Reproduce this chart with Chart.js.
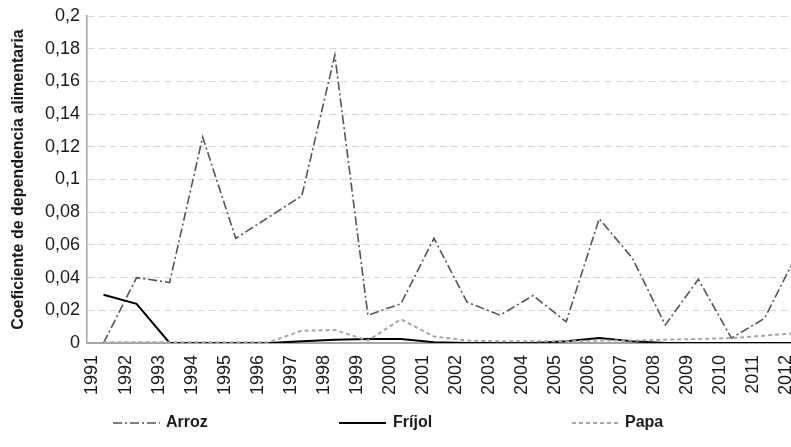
<!DOCTYPE html>
<html lang="es">
<head>
<meta charset="utf-8">
<title>Coeficiente de dependencia alimentaria</title>
<script src="https://cdn.jsdelivr.net/npm/chart.js@4.4.1/dist/chart.umd.min.js"></script>
<style>
  html, body { margin: 0; padding: 0; background: #fff; overflow: hidden; }
  #wrap { width: 791px; height: 447px; overflow: hidden; }
  canvas { display: block; }
</style>
</head>
<body>
<div id="wrap">
  <canvas id="dependenciaChart" width="816" height="447"></canvas>
</div>
<script>
// =============================================================================
// DATA
// =============================================================================
const years = ['1991', '1992', '1993', '1994', '1995', '1996', '1997', '1998', '1999', '2000', '2001',
               '2002', '2003', '2004', '2005', '2006', '2007', '2008', '2009', '2010', '2011', '2012'];

const arroz  = [0, 0.040, 0.037, 0.126, 0.064, 0.077, 0.090, 0.176, 0.017, 0.024, 0.064,
                0.025, 0.017, 0.029, 0.013, 0.076, 0.052, 0.011, 0.039, 0.003, 0.015, 0.055];

const frijol = [0.0295, 0.024, 0, 0, 0, 0, 0.001, 0.002, 0.0025, 0.0025, 0.0005,
                0, 0, 0, 0.001, 0.003, 0.001, 0, 0, 0, 0, 0];

const papa   = [0.0005, 0.0005, 0.0005, 0.0005, 0.0005, 0.0005, 0.0075, 0.008, 0.0015, 0.0145, 0.004,
                0.0015, 0.001, 0.001, 0.001, 0.0015, 0.0015, 0.002, 0.0025, 0.003, 0.0045, 0.006];

const yTickLabels = ['0', '0,02', '0,04', '0,06', '0,08', '0,1', '0,12', '0,14', '0,16', '0,18', '0,2'];

// =============================================================================
// LEGEND - drawn by hand so the items sit where the original puts them
// =============================================================================
const manualLegend = {
  id: 'manualLegend',
  afterDraw(chart, args, opts) {
    const ctx = chart.ctx;
    chart.data.datasets.forEach((ds, i) => {
      const spot = opts.spots[i];
      ctx.save();
      ctx.strokeStyle = ds.borderColor;
      ctx.lineWidth = ds.borderWidth;
      ctx.setLineDash(ds.borderDash || []);
      ctx.beginPath();
      ctx.moveTo(spot.x, opts.y);
      ctx.lineTo(spot.x + opts.sampleWidth, opts.y);
      ctx.stroke();
      ctx.setLineDash([]);
      ctx.fillStyle = '#1a1a1a';
      ctx.font = 'bold 16px "Liberation Sans", Arial, sans-serif';
      ctx.textBaseline = 'middle';
      ctx.fillText(ds.label, spot.text, opts.y);
      ctx.restore();
    });
  }
};

const ctx = document.getElementById('dependenciaChart').getContext('2d');

new Chart(ctx, {
  type: 'line',
  data: {
    labels: years,
    datasets: [
      {
        label: 'Arroz',
        data: arroz,
        borderColor: '#555555',
        borderWidth: 1.6,
        borderDash: [9, 3, 2, 3],
        order: 2
      },
      {
        label: 'Fríjol',
        data: frijol,
        borderColor: '#000000',
        borderWidth: 2,
        order: 1
      },
      {
        label: 'Papa',
        data: papa,
        borderColor: '#a6a6a6',
        borderWidth: 2,
        borderDash: [4, 3],
        order: 0
      }
    ]
  },
  options: {
    responsive: false,
    animation: false,
    events: [],
    layout: { padding: { top: 16, right: 2, left: 0, bottom: 0 } },
    elements: {
      line: { tension: 0, fill: false },
      point: { radius: 0 }
    },
    scales: {
      x: {
        offset: true,
        grid: { display: false, drawTicks: false },
        border: { display: true, color: '#a6a6a6', width: 2 },
        ticks: {
          autoSkip: false,
          minRotation: 90,
          maxRotation: 90,
          padding: 12,
          labelOffset: -11,
          color: '#1a1a1a',
          font: { family: '"Liberation Sans", Arial, sans-serif', size: 18 }
        },
        afterFit(scale) {
          scale.height = 104;
          scale.paddingLeft = 0;
          scale.paddingRight = 0;
        }
      },
      y: {
        min: 0,
        max: 0.2,
        grid: { color: '#d9d9d9', lineWidth: 1, drawTicks: false },
        border: { display: true, color: '#a6a6a6', width: 1.5, dash: [7, 4] },
        ticks: {
          stepSize: 0.02,
          padding: 7,
          color: '#1a1a1a',
          font: { family: '"Liberation Sans", Arial, sans-serif', size: 18 },
          callback: (value, index) => yTickLabels[index]
        },
        title: {
          display: true,
          text: 'Coeficiente de dependencia alimentaria',
          color: '#1a1a1a',
          padding: { top: 9, bottom: 0 },
          font: { family: '"Liberation Sans", Arial, sans-serif', size: 16, weight: 'bold' }
        },
        afterFit(scale) {
          scale.width = 87;
          scale.paddingTop = 0;
          scale.paddingBottom = 0;
        }
      }
    },
    plugins: {
      legend: { display: false },
      tooltip: { enabled: false },
      manualLegend: {
        y: 423,
        sampleWidth: 47,
        spots: [
          { x: 113, text: 166 },
          { x: 339, text: 393 },
          { x: 572, text: 625 }
        ]
      }
    }
  },
  plugins: [manualLegend]
});
</script>
</body>
</html>
